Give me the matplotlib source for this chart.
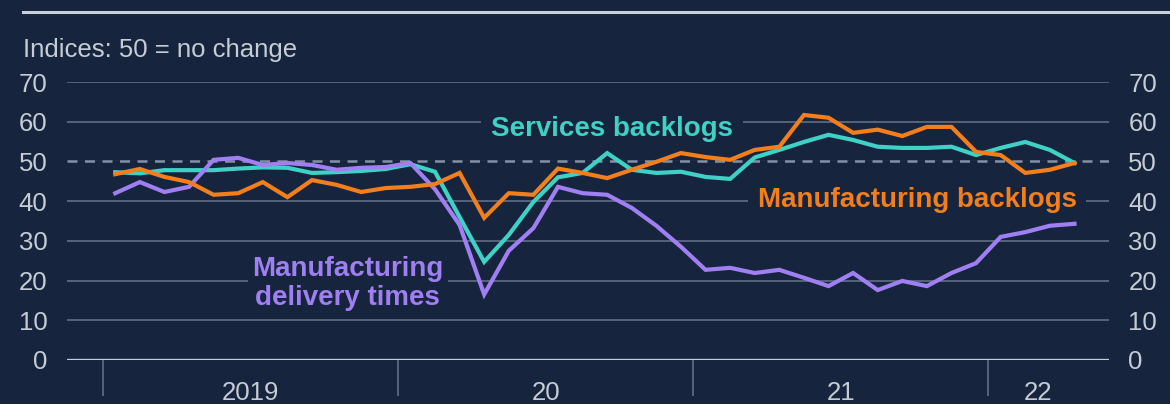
import matplotlib.pyplot as plt
import numpy as np
from matplotlib.lines import Line2D

plt.rcParams["font.family"] = ["Liberation Sans", "DejaVu Sans"]

# -------------------------------------------------------------------------
# Data: monthly indices, Jan 2019 - Apr 2022
# -------------------------------------------------------------------------
year_labels = ["2019", "20", "21", "22"]

services_backlogs = [
    47.3, 47.0, 47.8, 47.8, 47.8, 48.2, 48.5, 48.4, 47.1, 47.3, 47.6, 48.1,
    49.3, 47.4, 36.0, 24.7, 31.5, 39.8, 46.0, 47.1, 52.1, 47.9, 47.1, 47.4,
    46.1, 45.6, 51.0, 52.9, 54.9, 56.7, 55.4, 53.7, 53.4, 53.4, 53.7, 51.6,
    53.4, 54.9, 52.9, 49.6,
]
manufacturing_backlogs = [
    46.8, 48.1, 46.1, 44.8, 41.6, 42.0, 44.8, 41.0, 45.3, 44.1, 42.3, 43.3,
    43.6, 44.3, 47.1, 35.8, 42.0, 41.6, 48.2, 47.1, 45.8, 47.9, 49.9, 52.1,
    51.1, 50.4, 52.9, 53.7, 61.7, 61.0, 57.2, 58.0, 56.4, 58.7, 58.7, 52.4,
    51.6, 47.1, 47.9, 49.6,
]
delivery_times = [
    42.0, 44.8, 42.3, 43.6, 50.4, 50.9, 49.1, 49.6, 49.1, 47.9, 48.4, 48.6,
    49.6, 43.0, 34.0, 16.5, 27.5, 33.2, 43.6, 42.0, 41.6, 38.3, 33.8, 28.5,
    22.7, 23.2, 21.9, 22.7, 20.7, 18.6, 21.9, 17.6, 19.9, 18.6, 21.9, 24.4,
    31.0, 32.2, 33.8, 34.3,
]

# -------------------------------------------------------------------------
# Style
# -------------------------------------------------------------------------
BG = "#16253d"
GRID = "#55647a"
TEXT = "#c6ccd6"
TEAL = "#3fd0c6"
ORANGE = "#f27e1c"
PURPLE = "#9f7ff2"

fig = plt.figure(figsize=(11.7, 4.04), dpi=100, facecolor=BG)
ax = fig.add_axes([0.0573, 0.109, 0.8905, 0.688], facecolor=BG)

n = len(services_backlogs)
x = np.arange(n) + 0.5

ax.set_ylim(0, 70)
ax.set_xlim(-1.46, 40.9)
ax.set_yticks(np.arange(0, 71, 10))
for v in np.arange(10, 71, 10):
    ax.axhline(v, color=GRID, lw=1.4, zorder=1)
ax.axhline(50, color=BG, lw=2.0, zorder=1.1)
ax.axhline(50, color="#8391a5", lw=1.8, ls=(0, (4, 3)), zorder=1.2)
ax.axhline(0, color="#c3cdd9", lw=2.4, zorder=4)

ax.plot(x, services_backlogs, color=TEAL, lw=3.0, zorder=3, solid_joinstyle="miter")
ax.plot(x, manufacturing_backlogs, color=ORANGE, lw=3.0, zorder=3.2, solid_joinstyle="miter")
ax.plot(x, delivery_times, color=PURPLE, lw=3.0, zorder=3.1, solid_joinstyle="miter")

for s in ax.spines.values():
    s.set_visible(False)

ax.tick_params(axis="y", length=0, labelsize=18.5, labelcolor=TEXT,
               labelleft=True, labelright=True, pad=14)

# Year boundary ticks and centred labels
year_starts = np.arange(0, n, 12)
year_centres = [(s + min(s + 12, n)) / 2 for s in year_starts]
ax.set_xticks(year_starts, minor=True)
ax.set_xticks(year_centres)
ax.set_xticklabels(year_labels)
ax.tick_params(axis="x", which="minor", length=26, width=1.4, color=GRID, direction="out")
ax.tick_params(axis="x", which="major", length=0, pad=15, labelsize=18.5, labelcolor=TEXT)

# Inline series labels
box = dict(boxstyle="square,pad=0.35", facecolor=BG, edgecolor="none")
ax.text(20.7, 58.2, "Services backlogs", color=TEAL, fontsize=20, fontweight="bold",
        ha="center", va="center", bbox=box, zorder=2)
ax.text(33.1, 40.4, "Manufacturing backlogs", color=ORANGE, fontsize=20,
        fontweight="bold", ha="center", va="center", bbox=box, zorder=2)
ax.text(9.96, 19.2, "Manufacturing\ndelivery times", color=PURPLE, fontsize=20,
        fontweight="bold", ha="center", va="center", linespacing=1.15,
        bbox=dict(boxstyle="square,pad=0.15", facecolor=BG, edgecolor="none"),
        zorder=2)

fig.text(0.0197, 0.876, "Indices: 50 = no change", color=TEXT, fontsize=18.5,
         ha="left", va="center")
fig.add_artist(Line2D([0.0197, 1.0], [0.970, 0.970], color="#c8d0dc", lw=2.2))

fig.savefig("out.png", dpi=100, facecolor=BG)
